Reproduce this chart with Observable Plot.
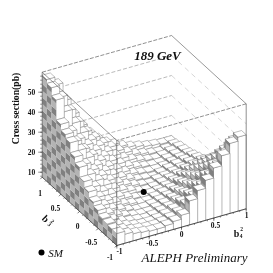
<!DOCTYPE html>
<html><head><meta charset="utf-8">
<style>html,body{margin:0;padding:0;background:#fff;overflow:hidden}</style>
<script src="https://cdn.jsdelivr.net/npm/d3@7"></script>
<script src="https://cdn.jsdelivr.net/npm/@observablehq/plot@0.6"></script>
</head><body><div id="chart"></div>
<script>
const rows = [
[13.5,12,11,10.5,10,10,10.5,11.5,13.5,19.5,23.5,27.5,32.5,37.5,42.5,44.5],
[13.5,12,10.5,10,9.5,9.5,10,11,12.5,15.5,18.5,22.5,26.5,30.5,35.5,40.5],
[14,12,10.5,9.5,9,9,9.5,10.5,12,14.5,17,20.5,24.5,28.5,32.5,35.5],
[14.5,12.5,10.5,9.5,9,8.5,9,10,11,13,15.5,18.5,21.5,25.5,28.5,31.5],
[16.5,13.5,11.5,10,9,8.5,8.5,9.5,10.5,12,14,16.5,19.5,22.5,25.5,27.5],
[18.5,15.5,12.5,11,9.5,8.5,8.5,9,10,11,12.5,15,17.5,20,22,23.5],
[21.5,17.5,14.5,12.5,10.5,9.5,8.5,8.5,9.5,10.5,11.5,13.5,15.5,17.5,19,20.5],
[24.5,20.5,17,14.5,12,10.5,9,8.5,9,9.5,10.5,12,13.5,15,16.5,17.5],
[29.5,24.5,20.5,17,14,12,10.5,9,8.5,9,10,11,12,13.5,14.5,15.5],
[32.5,27.5,23.5,19.5,16,13.5,11.5,10,9,8.5,9.5,10,11,12,13.5,14.5],
[37.5,32.5,27.5,22.5,18.5,15.5,13,11,9.5,9,8.5,9.5,10.5,11.5,12.5,13.5],
[39.5,34.5,29.5,25.5,21.5,17.5,15,12.5,10.5,9.5,9,9,9.5,10.5,11.5,12.5],
[42.5,37.5,32.5,28.5,24.5,20.5,17,14.5,12,10.5,9.5,9,9,10,11,12],
[52.5,45.5,38.5,32.5,27.5,23.5,19.5,16.5,14,12,10.5,9.5,9,9.5,10.5,11.5],
[56.5,50.5,42.5,35.5,29.5,25.5,21.5,18.5,15.5,13.5,11.5,10.5,9.5,9,9.5,10.5],
[58.5,54.5,45.5,37.5,30.5,25.5,21.5,18.5,16.5,14.5,13,12,11,10.5,10,10]
];
const zFloor = 7.5, zTop = 60;
const zTicks = [10,20,30,40,50];
const zMinor = d3.range(8,60,2);
const bTicks = [-1,-0.5,0,0.5,1];
const bMinor = d3.range(-1,1.0001,0.1);
const smPoint = [0,0];

// view of the box: the three floor corners and the vertical scale
const front=[116.3,245], leftC=[41.7,176.7], rightC=[245.7,208.3], pxPerPb=2;
const proj=(u,v,z)=>[
  front[0]+u*(rightC[0]-front[0])+v*(leftC[0]-front[0]),
  front[1]+u*(rightC[1]-front[1])+v*(leftC[1]-front[1])-(z-zFloor)*pxPerPb];
const n=16;
let id=0;
const polys=[], wall=[];
function poly(target,corners,f,s){const k=id++;for(const c of corners){const p=proj(...c);target.push({x:p[0],y:p[1],k,f,s});}}
function sideBands(target,makeCorner,z0,z1,i,stroke){
  const h=10/3;
  let a=z0;
  while(a<z1-1e-6){
    const b=Math.floor((a-zFloor+1e-6)/h);
    const e=Math.min(z1,zFloor+(b+1)*h);
    const f=(b+i)%2?"#b4b4b4":"#808080";
    poly(target,[makeCorner(0,a),makeCorner(1,a),makeCorner(1,e),makeCorner(0,e)],f,stroke);
    a=e;
  }
}
const sk="#6e6e6e";
for(let j=n-1;j>=0;j--)for(let i=n-1;i>=0;i--){
  const z=rows[j][i], u0=i/n,u1=(i+1)/n,v0=j/n,v1=(j+1)/n;
  const zl=i>0?rows[j][i-1]:zFloor, zr=j>0?rows[j-1][i]:zFloor;
  if(i>0&&z>zl){
    sideBands(polys,(t,zz)=>[u0,t?v1:v0,zz],zl,z,i+j,"#a0a0a0");
    poly(polys,[[u0,v0,zl],[u0,v1,zl],[u0,v1,z],[u0,v0,z]],"none",sk);
  }
  if(z>zr) poly(polys,[[u0,v0,zr],[u1,v0,zr],[u1,v0,z],[u0,v0,z]],"#ffffff",sk);
  poly(polys,[[u0,v0,z],[u1,v0,z],[u1,v1,z],[u0,v1,z]],"#ffffff",sk);
  if(i===0) sideBands(wall,(t,zz)=>[0,t?v1:v0,zz],zFloor,z,j,"none");
}
const seg=(a,b)=>({a:proj(...a),b:proj(...b)});
const gridLeft=zTicks.map(z=>seg([0,1,z],[1,1,z]));
const gridRight=zTicks.map(z=>seg([1,1,z],[1,0,z]));
const frameDashed=[seg([0,1,zTop],[1,1,zTop]),seg([1,0,zTop],[0,0,zTop])];
const frameSolid=[seg([1,1,zTop],[1,0,zTop]),seg([0,1,zTop],[0,0,zTop])];
const verticals=[seg([0,0,zFloor],[0,0,zTop]),seg([1,0,zFloor],[1,0,zTop]),seg([0,1,zFloor],[0,1,zTop])];
const floors=[seg([0,0,zFloor],[1,0,zFloor]),seg([0,0,zFloor],[0,1,zFloor])];
const map=b=>(b+1)/2;
const tick=(p,dx,dy)=>({a:p,b:[p[0]+dx,p[1]+dy]});
const uTicks=[...bMinor.map(b=>tick(proj(map(b),0,zFloor),0,1.5)),...bTicks.map(b=>tick(proj(map(b),0,zFloor),0,3))];
const vTicks=[...bMinor.map(b=>tick(proj(0,map(b),zFloor),-1,1)),...bTicks.map(b=>tick(proj(0,map(b),zFloor),-2,2))];
const zTk=[...zMinor.map(z=>tick(proj(0,1,z),-2,0)),...zTicks.map(z=>tick(proj(0,1,z),-4,0))];
const lnk=(data,o)=>Plot.link(data,{x1:d=>d.a[0],y1:d=>d.a[1],x2:d=>d.b[0],y2:d=>d.b[1],...o});
const F="'Liberation Serif',serif";
const labels=[
 ...zTicks.map(z=>({t:String(z),p:[31,proj(0,1,z)[1]]})),
 {t:"1",p:[39.5,192.7]},{t:"0.5",p:[55,208]},{t:"0",p:[77,225.7]},{t:"-0.5",p:[90.7,241.7]},{t:"-1",p:[109.5,257.5]},
 {t:"-1",p:[119,251]},{t:"-0.5",p:[151.7,243.3]},{t:"0",p:[181,234.3]},{t:"0.5",p:[215,225]},{t:"1",p:[246,215]}
];
const chart=Plot.plot({
  width:273,height:273,margin:0,
  x:{domain:[0,273],range:[0,273],axis:null},
  y:{domain:[0,273],range:[0,273],axis:null},
  color:{type:"identity"},
  style:{background:"#fff",filter:"blur(0.45px)"},
  marks:[
    lnk(gridLeft,{stroke:"#8c8c8c",strokeWidth:0.6,strokeDasharray:"4 2"}),
    lnk(gridRight,{stroke:"#bbbbbb",strokeWidth:0.6,strokeDasharray:"5 4"}),
    lnk(frameDashed.slice(0,1),{stroke:"#444",strokeWidth:0.6,strokeDasharray:"4 1.5"}),
    lnk(frameSolid.slice(0,1),{stroke:"#555",strokeWidth:0.6}),
    Plot.line(polys,{x:"x",y:"y",z:"k",fill:"f",stroke:"s",strokeWidth:0.45,curve:"linear-closed"}),
    Plot.line(wall,{x:"x",y:"y",z:"k",fill:"f",curve:"linear-closed",stroke:"none"}),
    lnk(frameDashed.slice(1),{stroke:"#444",strokeWidth:0.6,strokeDasharray:"4 1.5"}),
    lnk(frameSolid.slice(1),{stroke:"#555",strokeWidth:0.6}),
    lnk(verticals,{stroke:"#444",strokeWidth:0.6}),
    lnk(floors,{stroke:"#222",strokeWidth:0.7}),
    lnk(uTicks,{stroke:"#222",strokeWidth:0.5}),
    lnk(vTicks,{stroke:"#222",strokeWidth:0.5}),
    lnk(zTk,{stroke:"#222",strokeWidth:0.5}),
    Plot.dot([smPoint],{x:d=>proj(map(d[0]),map(d[1]),zFloor)[0]-0.5,y:d=>proj(map(d[0]),map(d[1]),zFloor)[1]-1,r:3,fill:"#000"}),
    Plot.dot([0],{x:()=>41,y:()=>252,r:3,fill:"#000"}),
    Plot.text(labels,{x:d=>d.p[0],y:d=>d.p[1],text:"t",fontSize:7.5,fontWeight:"bold",fontFamily:F,fill:"#111"}),
    Plot.text(["Cross section(pb)"],{x:()=>15,y:()=>108,rotate:-90,fontSize:9.7,fontWeight:"bold",fontFamily:F,fill:"#111"}),
    Plot.text(["189 GeV"],{x:()=>157,y:()=>55,fontSize:13,fontWeight:"bold",fontStyle:"italic",fontFamily:F,fill:"#111"}),
    Plot.text(["ALEPH Preliminary"],{x:()=>194,y:()=>257,fontSize:13,fontStyle:"italic",fontFamily:F,fill:"#111"}),
    Plot.text(["SM"],{x:()=>55,y:()=>252.5,fontSize:11,fontStyle:"italic",fontFamily:F,fill:"#111"}),
    Plot.text(["b"],{x:()=>236,y:()=>233,fontSize:10,fontWeight:"bold",fontFamily:F,fill:"#111"}),
    Plot.text(["4"],{x:()=>240.5,y:()=>236,fontSize:5.5,fontWeight:"bold",fontFamily:F,fill:"#111"}),
    Plot.text(["2"],{x:()=>241,y:()=>229,fontSize:5.5,fontWeight:"bold",fontFamily:F,fill:"#111"}),
    Plot.text(["b"],{x:()=>45,y:()=>218.5,rotate:45,fontSize:10,fontWeight:"bold",fontFamily:F,fill:"#111"}),
    Plot.text(["3"],{x:()=>49,y:()=>224,rotate:45,fontSize:5.5,fontWeight:"bold",fontFamily:F,fill:"#111"}),
    Plot.text(["2"],{x:()=>52,y:()=>221,rotate:45,fontSize:5.5,fontWeight:"bold",fontFamily:F,fill:"#111"})
  ]
});
document.getElementById("chart").appendChild(chart);
</script></body></html>
